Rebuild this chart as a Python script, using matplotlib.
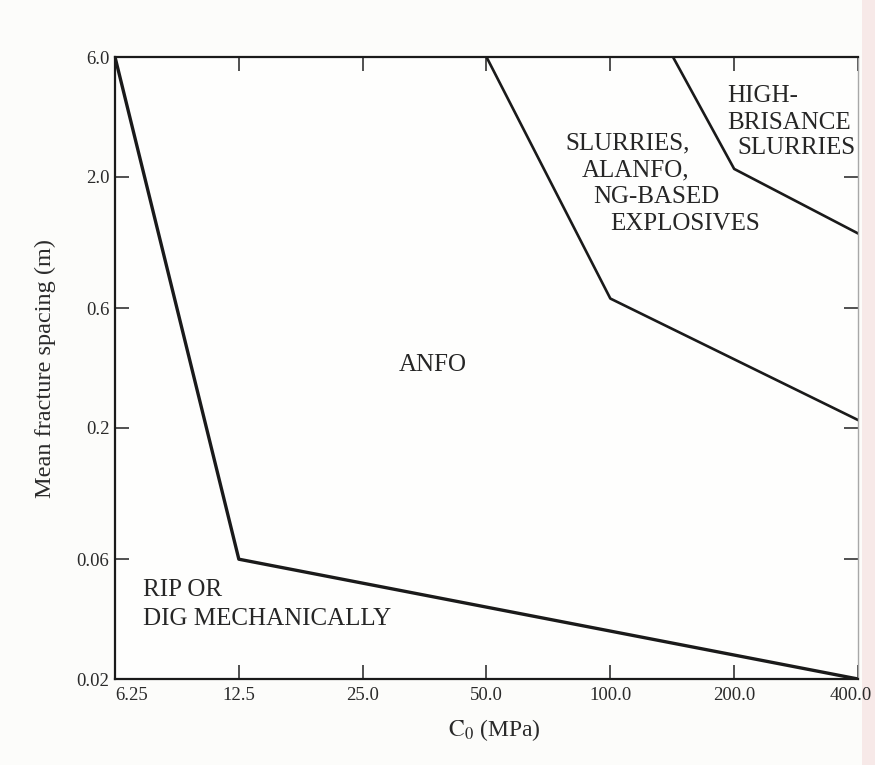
import matplotlib
matplotlib.use("Agg")
import matplotlib.pyplot as plt
from matplotlib.ticker import FixedLocator, FixedFormatter, NullLocator
from matplotlib.patches import Rectangle
from matplotlib.transforms import ScaledTranslation

plt.rcParams['font.family'] = ['Liberation Serif', 'DejaVu Serif']
plt.rcParams['mathtext.fontset'] = 'stix'

# axis ticks (log scales)
x_ticks = [6.25, 12.5, 25.0, 50.0, 100.0, 200.0, 400.0]
x_tick_labels = ["6.25", "12.5", "25.0", "50.0", "100.0", "200.0", "400.0"]
y_ticks = [0.02, 0.06, 0.2, 0.6, 2.0, 6.0]
y_tick_labels = ["0.02", "0.06", "0.2", "0.6", "2.0", "6.0"]

# boundary lines between blasting regions
rip_x = [6.25, 12.5, 400.0]
rip_y = [6.0, 0.06, 0.02]
anfo_x = [50.0, 100.0, 400.0]
anfo_y = [6.0, 0.655, 0.215]
slurry_x = [142.0, 200.0, 400.0]
slurry_y = [6.0, 2.15, 1.19]

# region labels (line by line, as typeset in the book)
region_lines = ["RIP OR", "DIG MECHANICALLY", "ANFO",
                "SLURRIES,", "ALANFO,", "NG-BASED", "EXPLOSIVES",
                "HIGH-", "BRISANCE", "SLURRIES"]

W, H = 875, 765
fig = plt.figure(figsize=(W / 100, H / 100), dpi=100, facecolor="#fcfcfa")
ax = fig.add_axes([115 / W, 1 - 679 / H, 743 / W, 622 / H])
ax.set_facecolor("#fefefd")

# pinkish page edge on the right of the scan
fig.patches.append(Rectangle((862 / W, 0), 13 / W, 1, transform=fig.transFigure,
                             facecolor="#f7e9e8", edgecolor="none", zorder=-1))

ax.plot(rip_x, rip_y, color="#1a1a1a", lw=2.4, solid_joinstyle="round")
ax.plot(anfo_x, anfo_y, color="#1a1a1a", lw=1.9, solid_joinstyle="round")
ax.plot(slurry_x, slurry_y, color="#1a1a1a", lw=1.9, solid_joinstyle="round")

ax.set_xscale("log", base=2)
ax.set_yscale("log")
ax.set_xlim(6.25, 400.0)
ax.set_ylim(0.02, 6.0)

ax.xaxis.set_major_locator(FixedLocator(x_ticks))
ax.xaxis.set_major_formatter(FixedFormatter(x_tick_labels))
ax.yaxis.set_major_locator(FixedLocator(y_ticks))
ax.yaxis.set_major_formatter(FixedFormatter(y_tick_labels))
ax.xaxis.set_minor_locator(NullLocator())
ax.yaxis.set_minor_locator(NullLocator())

ax.tick_params(which="major", direction="in", length=10, width=1.2, color="#333333",
               top=True, right=True, labelsize=13.5, labelcolor="#2a2a2a")
ax.tick_params(axis="x", pad=6)
ax.tick_params(axis="y", pad=4)
xlabels = ax.get_xticklabels()
xlabels[0].set_horizontalalignment("left")
# nudge the last label so it stays inside the canvas
xlabels[-1].set_transform(xlabels[-1].get_transform()
                          + ScaledTranslation(-5 / 72, 0, fig.dpi_scale_trans))

for side in ["left", "bottom", "top"]:
    ax.spines[side].set_color("#1a1a1a")
    ax.spines[side].set_linewidth(1.6)
ax.spines["right"].set_color("#a8a8a8")
ax.spines["right"].set_linewidth(1.0)

ax.set_xlabel(r"$\mathrm{C}_0$ (MPa)", fontsize=17, color="#2a2a2a")
ax.xaxis.set_label_coords(0.511, -0.061)
ax.set_ylabel("Mean fracture spacing (m)", fontsize=17.5, color="#2a2a2a")
ax.yaxis.set_label_coords(-0.08, 0.5)

txt = dict(transform=ax.transAxes, fontsize=18, color="#262626", va="baseline")
ax.text(0.0377, 0.1334, region_lines[0], ha="left", **txt)
ax.text(0.0377, 0.0868, region_lines[1], ha="left", **txt)
ax.text(0.428, 0.4952, region_lines[2], ha="center", **txt)
ax.text(0.6057, 0.8521, region_lines[3], ha="left", **txt)
ax.text(0.6285, 0.8087, region_lines[4], ha="left", **txt)
ax.text(0.6433, 0.7653, region_lines[5], ha="left", **txt)
ax.text(0.6665, 0.7219, region_lines[6], ha="left", **txt)
ax.text(0.8237, 0.9281, region_lines[7], ha="left", **txt)
ax.text(0.8237, 0.8842, region_lines[8], ha="left", **txt)
ax.text(0.8371, 0.8441, region_lines[9], ha="left", **txt)

fig.savefig("out.png", dpi=100, facecolor=fig.get_facecolor())
